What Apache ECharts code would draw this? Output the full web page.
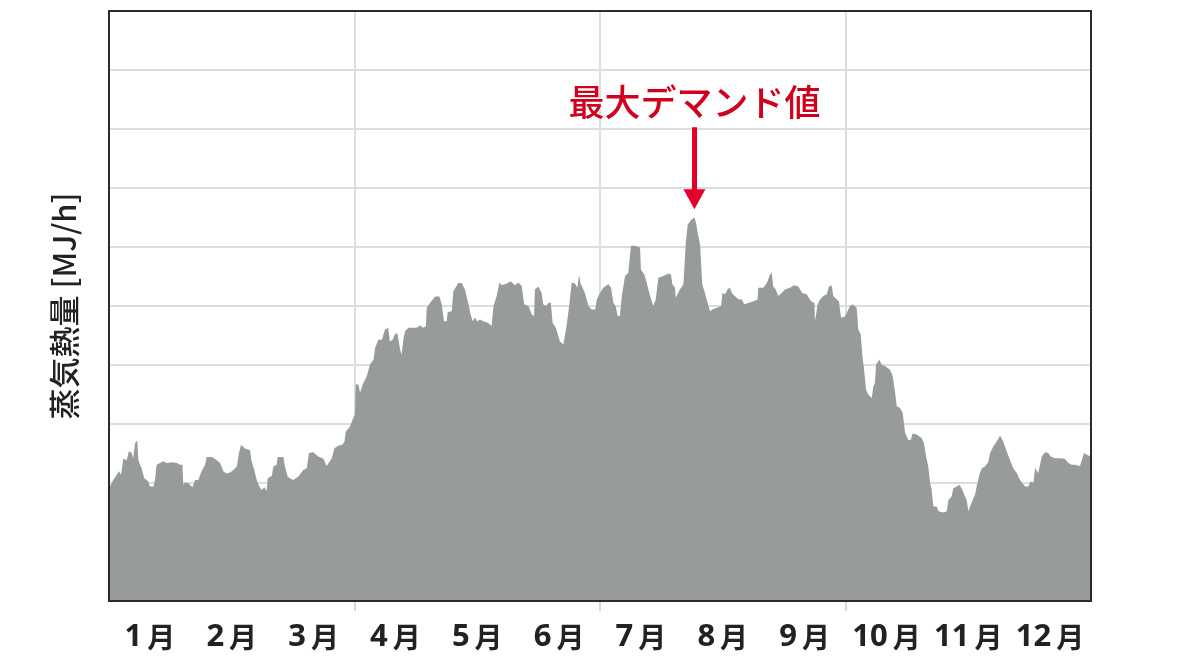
<!DOCTYPE html>
<html><head><meta charset="utf-8">
<script src="https://cdn.jsdelivr.net/npm/echarts@6/dist/echarts.min.js"></script>
<style>html,body{margin:0;padding:0;background:#fff;}#c{width:1201px;height:661px;}</style>
</head><body><div id="c"></div>
<script>
const months = ['1月','2月','3月','4月','5月','6月','7月','8月','9月','10月','11月','12月'];
const yTitle = '蒸気熱量 [MJ/h]';
const peakLabel = '最大デマンド値';
// day of year
const days = [0,0.74,1.6,2.85,3.7,4.5,5.3,6.6,7.4,8.4,9.0,9.7,10.5,10.9,12.1,13.1,14.6,15.2,16.5,17.1,17.7,18.3,20.2,21.4,23.3,25.2,26.4,27.3,27.6,28.2,29.5,31.0,32.0,33.2,34.4,35.7,36.3,38.2,40.0,41.3,42.5,43.7,45.0,46.2,47.5,48.3,49.1,50.6,52.4,53.0,54.0,54.9,55.8,56.7,57.7,58.6,59.0,60.5,61.1,62.3,62.7,64.8,65.4,66.4,67.3,68.5,69.1,70.4,72.2,73.5,74.3,75.9,77.8,79.7,80.9,81.5,82.8,83.8,85.2,86.7,87.5,88.0,89.6,90.8,91.4,
91.7,92.7,93.3,94.3,95.8,97.0,98.3,98.9,100.1,101.4,102.6,103.8,104.4,105.4,106.3,107.2,108.2,108.8,109.4,110.0,111.3,114.4,115.6,116.8,117.8,118.1,119.3,121.2,122.8,123.7,124.5,125.5,125.9,127.4,128.0,129.8,131.1,132.3,133.6,134.4,135.2,136.0,136.9,137.9,139.1,141.0,142.2,142.9,144.1,145.1,146.0,147.8,149.3,150.9,152.1,153.4,154.3,155.9,157.1,158.0,158.3,159.6,160.8,161.4,162.4,163.3,164.2,164.9,166.1,167.6,168.9,170.1,171.1,172.0,173.2,174.1,174.7,175.3,
176.9,178.2,179.4,180.7,181.3,182.5,183.7,185.6,186.6,187.5,188.3,189.1,189.9,190.6,191.8,193.0,194.0,195.5,197.4,197.7,199.0,199.9,201.1,202.3,203.2,204.2,206.0,207.9,208.9,209.4,210.4,210.6,212.2,213.5,214.4,215.1,216.6,217.6,218.2,218.8,219.7,220.5,221.5,222.5,223.4,224.3,225.9,227.5,228.0,229.0,230.0,230.8,231.5,232.4,233.3,234.2,235.2,236.1,237.6,239.5,241.1,241.3,243.2,244.5,245.7,246.3,246.9,247.8,248.8,250.0,251.3,253.1,254.7,256.2,257.7,259.3,260.9,262.2,262.4,263.4,264.3,265.5,266.8,267.6,268.6,269.2,270.5,271.3,272.1,273.6,274.2,
275.4,276.4,277.9,278.5,279.4,280.1,280.6,281.4,282.2,283.5,284.1,284.7,285.1,286.3,287.2,288.8,290.3,291.3,292.2,292.8,294.0,295.0,295.9,297.1,298.0,298.7,300.2,302.1,302.9,303.7,304.5,305.2,305.8,306.4,307.6,308.3,310.1,311.4,312.0,313.2,313.8,315.1,316.1,316.9,318.2,318.8,319.4,320.0,321.0,321.9,322.5,323.5,324.4,325.6,326.8,327.5,328.7,329.9,331.2,332.4,333.7,334.9,336.1,337.4,338.6,340.5,341.7,342.6,343.6,344.2,344.8,345.4,346.1,346.7,347.9,349.1,350.0,351.6,353.5,355.3,356.6,357.8,359.1,360.9,361.6,362.4,363.4,364.0,365];
const steam = [1.91,1.91,2.05,2.14,2.20,2.14,2.41,2.39,2.54,2.51,2.42,2.68,2.72,2.39,2.25,2.08,2.03,1.94,1.94,2.05,2.31,2.34,2.37,2.34,2.35,2.34,2.31,2.31,1.97,2.01,2.00,1.93,2.05,2.05,2.20,2.31,2.44,2.44,2.39,2.34,2.20,2.16,2.18,2.22,2.28,2.51,2.65,2.58,2.56,2.37,2.22,2.05,1.95,1.88,1.93,1.87,2.08,2.12,2.28,2.31,2.44,2.44,2.28,2.11,2.08,2.05,2.05,2.11,2.22,2.25,2.51,2.52,2.45,2.41,2.29,2.31,2.42,2.59,2.63,2.65,2.70,2.87,2.96,3.10,3.16,
3.67,3.67,3.53,3.67,3.81,4.01,4.09,4.29,4.43,4.43,4.60,4.63,4.40,4.43,4.52,4.54,4.26,4.18,4.43,4.57,4.63,4.63,4.67,4.63,4.66,4.97,5.05,5.16,5.16,5.03,4.74,4.74,4.90,4.91,5.25,5.39,5.39,5.28,5.03,4.86,4.74,4.80,4.74,4.77,4.74,4.71,4.66,5.00,5.17,5.40,5.35,5.38,5.42,5.35,5.40,5.34,5.03,5.00,4.86,4.83,5.28,5.33,5.22,5.03,5.00,5.05,5.06,4.71,4.63,4.40,4.35,4.67,5.03,5.40,5.38,5.31,5.53,5.38,
5.22,5.00,4.94,4.94,5.11,5.22,5.31,5.37,5.31,5.05,5.00,4.83,4.83,5.17,5.51,5.56,6.02,6.02,5.99,5.62,5.53,5.39,5.17,5.00,5.11,5.48,5.51,5.55,5.53,5.37,5.31,5.14,5.28,5.37,6.07,6.38,6.47,6.50,6.41,6.24,6.04,5.37,5.22,5.05,4.91,4.94,4.97,5.00,5.22,5.20,5.29,5.31,5.22,5.18,5.14,5.11,5.11,5.03,5.05,5.08,5.11,5.31,5.31,5.39,5.53,5.57,5.33,5.28,5.17,5.22,5.28,5.31,5.35,5.33,5.22,5.20,5.08,5.05,4.74,5.03,5.11,5.17,5.20,5.33,5.35,5.17,5.11,5.08,4.80,4.82,4.80,
5.00,5.03,4.97,4.60,4.52,4.12,3.95,3.58,3.50,3.44,3.64,3.70,4.01,4.09,4.01,3.97,3.92,3.81,3.53,3.30,3.27,3.19,2.85,2.73,2.73,2.84,2.82,2.76,2.68,2.45,2.28,2.00,1.88,1.60,1.60,1.52,1.50,1.52,1.71,1.77,1.91,1.94,1.97,1.91,1.77,1.71,1.52,1.55,1.71,1.80,1.94,2.14,2.25,2.28,2.35,2.51,2.62,2.70,2.80,2.70,2.53,2.39,2.25,2.17,2.05,1.94,1.94,2.03,2.00,2.25,2.25,2.17,2.17,2.45,2.52,2.51,2.45,2.42,2.42,2.41,2.34,2.31,2.31,2.29,2.39,2.51,2.48,2.45,2.45];
const quarterTicks = [91.25, 182.5, 273.75];

const seriesData = days.map((d, i) => [d, steam[i]]);
let peakIdx = 0;
steam.forEach((v, i) => { if (v > steam[peakIdx]) peakIdx = i; });
const peakDay = days[peakIdx];

const FONT = '"Noto Sans CJK JP", "Noto Sans", sans-serif';
const chart = echarts.init(document.getElementById('c'), null, {renderer: 'canvas'});
const frameAxis = (pos) => ({
  type: 'value', position: pos, min: 0, max: 1, z: 10,
  axisLine: {show: true, onZero: false, lineStyle: {color: '#2b2b2b', width: 2}},
  axisTick: {show: false}, axisLabel: {show: false}, splitLine: {show: false}
});
chart.setOption({
  animation: false,
  backgroundColor: '#fff',
  grid: {left: 109, right: 110, top: 11, bottom: 60, containLabel: false},
  xAxis: [
    {type: 'value', min: 0, max: 365, interval: 91.25, position: 'bottom',
     axisLine: {show: false, onZero: false},
     axisTick: {show: true, length: 10, customValues: quarterTicks, lineStyle: {color: '#d8d8d8', width: 2}},
     axisLabel: {show: false},
     splitLine: {show: true, lineStyle: {color: '#dddddd', width: 2}}},
    {type: 'category', data: months, position: 'bottom', boundaryGap: true,
     axisLine: {show: false, onZero: false}, axisTick: {show: false}, splitLine: {show: false},
     axisLabel: {interval: 0, hideOverlap: false, margin: 21, color: '#222',
       formatter: v => '{d|' + v.replace('月', '') + '}{m|月}',
       rich: {
         d: {fontSize: 31, fontFamily: '"Noto Sans", sans-serif', fontWeight: 'bold', color: '#222', padding: [0, 5, 0, 0]},
         m: {fontSize: 28, fontFamily: FONT, fontWeight: 'bold', color: '#222'}
       }}},
    frameAxis('top'),
    frameAxis('bottom')
  ],
  yAxis: [
    {type: 'value', min: 0, max: 10, interval: 1, position: 'left',
     name: yTitle, nameLocation: 'middle', nameGap: 29, nameRotate: 90,
     nameTextStyle: {fontSize: 31, color: '#222', fontFamily: FONT, fontWeight: 500},
     axisLine: {show: false, onZero: false}, axisTick: {show: false}, axisLabel: {show: false},
     splitLine: {show: true, lineStyle: {color: '#dddddd', width: 2}}},
    frameAxis('left'),
    frameAxis('right')
  ],
  series: [{
    type: 'line', xAxisIndex: 0, yAxisIndex: 0, data: seriesData,
    showSymbol: false, symbol: 'none', smooth: false,
    lineStyle: {width: 0}, areaStyle: {color: '#979c9b', opacity: 1},
    z: 2,
    markLine: {
      silent: true, animation: false,
      symbol: ['none', 'triangle'], symbolSize: [22, 20],
      lineStyle: {color: '#e4002b', width: 5, type: 'solid'},
      label: {show: true, position: 'start', formatter: peakLabel, fontSize: 36,
              color: '#d1001c', fontFamily: FONT, fontWeight: 500, distance: 7},
      emphasis: {disabled: true},
      data: [[{coord: [peakDay, 8.03]}, {coord: [peakDay, 6.81]}]]
    }
  }]
});
</script></body></html>
